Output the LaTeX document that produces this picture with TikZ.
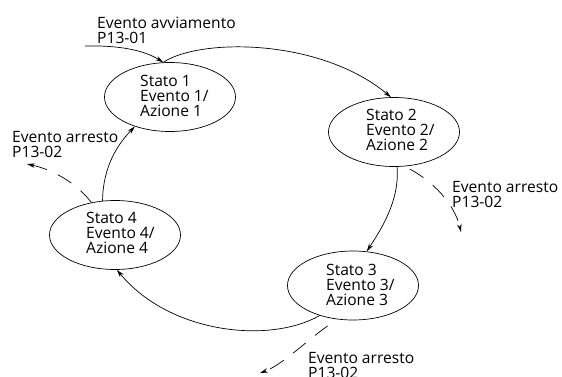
\documentclass[tikz,border=0pt]{standalone}
\usepackage{fontspec}
\setmainfont{Open Sans}
\usetikzlibrary{arrows.meta,shapes.geometric}
\begin{document}
\begin{tikzpicture}[x=1pt,y=1pt,
  st/.style={ellipse,draw,line width=0.7pt,minimum width=131pt,minimum height=69pt,inner sep=0pt},
  txt/.style={anchor=base west,align=left,inner sep=0pt,font=\fontsize{15.6}{15}\selectfont},
  conn/.style={line width=0.7pt,-{Stealth[length=8pt,width=4.5pt]}},
  stop/.style={conn,dash pattern=on 16pt off 12pt}]
\useasboundingbox (0,0) rectangle (562,376);
% states
\node[st] (s1) at (170,279) {};
\node[st] (s2) at (394,244) {};
\node[st] (s3) at (353,90.5) {};
\node[st] (s4) at (115,141) {};
\node[txt] (t1) at (140,259.5) {Stato 1\\Evento 1/\\Azione 1};
\node[txt] (t2) at (366,226) {Stato 2\\Evento 2/\\Azione 2};
\node[txt] (t3) at (326,70.5) {Stato 3\\Evento 3/\\Azione 3};
\node[txt] (t4) at (86,122.5) {Stato 4\\Evento 4/\\Azione 4};
% labels
\node[txt] (lstart) at (97,332.5) {Evento avviamento\\P13-01};
\node[txt] (lstop4) at (12,219) {Evento arresto\\P13-02};
\node[txt] (lstop2) at (452,169) {Evento arresto\\P13-02};
\node[txt] (lstop3) at (308,-2) {Evento arresto\\P13-02};
% free ends
\coordinate (in) at (85,330);
\coordinate (e4) at (27,212);
\coordinate (e2) at (461,144);
\coordinate (e3) at (260,3);
% solid transitions
\draw[conn] (in) .. controls (130,331) and (150,322) .. (s1.101);
\draw[conn] (s1.101) .. controls (200,338) and (320,338) .. (s2.95);
\draw[conn] (s2.-85) .. controls (400,175) and (380,145) .. (s3.68);
\draw[conn] (s3.222) .. controls (270,32) and (170,42) .. (s4.-87);
\draw[conn] (s4.110) .. controls (103,210) and (118,232) .. (s1.220);
% dashed stop events
\draw[stop] (s4.126) .. controls (75,195) and (50,207) .. (e4);
\draw[stop,dash phase=22pt] (s2.-73) .. controls (435,195) and (455,170) .. (e2);
\draw[stop,dash phase=16pt] (s3.246) .. controls (315,44) and (285,12) .. (e3);
\end{tikzpicture}
\end{document}
